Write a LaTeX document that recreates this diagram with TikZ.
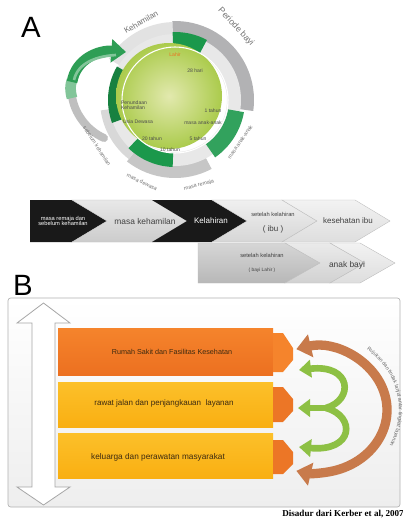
\documentclass[tikz,border=0pt]{standalone}
\usepackage{fontspec}
\setmainfont{Liberation Sans}
\newfontfamily\capfont{Liberation Serif}
\usetikzlibrary{arrows.meta,decorations.text}
\newcommand\myfs[1]{\fontsize{#1}{#1}\selectfont}
\newcommand\annsec[5]{\fill[#1] (#2:#4) arc[start angle=#2,end angle=#3,radius=#4] -- (#3:#5) arc[start angle=#3,end angle=#2,radius=#5] -- cycle;}
\definecolor{perigray}{HTML}{B2B2B4}
\definecolor{lgrayA}{HTML}{C6C6C6}
\definecolor{lgrayB}{HTML}{D8D8D8}
\definecolor{lgrayC}{HTML}{E2E2E2}
\definecolor{ringc}{HTML}{E8E8E8}
\definecolor{dgreen}{HTML}{1B984B}
\definecolor{diskin}{HTML}{E2E9AE}
\definecolor{diskout}{HTML}{ABCB4C}
\definecolor{arrgreen}{HTML}{2E9E55}
\definecolor{orangeA}{HTML}{F5842C}
\definecolor{orangeB}{HTML}{EC7020}
\definecolor{yellowA}{HTML}{FCC02A}
\definecolor{yellowB}{HTML}{F9AF12}
\definecolor{tipor}{HTML}{EC7626}
\definecolor{greenc}{HTML}{8DC044}
\definecolor{brownc}{HTML}{C87A4B}
\definecolor{panelc}{HTML}{EEEEEE}
\definecolor{txtd}{HTML}{3C2A10}
\tikzset{
  ctext/.style={font=\myfs{3.8}, text=black!70, inner sep=0, align=center},
  olabel/.style={font=\myfs{4}, text=black!55, inner sep=0},
  chwhite/.style={font=\myfs{6}, text=white, inner sep=0, align=center},
  chdark/.style={font=\myfs{6}, text=black!75, inner sep=0, align=center},
  bartext/.style={font=\myfs{5.8}, text=txtd, inner sep=0},
  chevgray/.style 2 args={top color=#1, bottom color=#2, draw=black!25, line width=0.3pt},
}
\begin{document}
\begin{tikzpicture}[x=0.75pt,y=-0.75pt]
\useasboundingbox (0,0) rectangle (403,522);
\fill[white] (0,0) rectangle (403,522);

% ---------- A ----------
\node[font=\myfs{22}, inner sep=0] (labA) at (31,27) {A};

% ---------- circle ----------
\begin{scope}[shift={(175,100)}]
\begin{scope}[y=0.75pt]
  \annsec{perigray}{-8}{92}{64}{79}
  \annsec{lgrayC}{92}{148}{64}{78}
  \annsec{lgrayA}{-128}{-62}{64}{78}
  \annsec{lgrayB}{188}{232}{64}{75}
  \fill[ringc, even odd rule] (0,0) circle[radius=66] (0,0) circle[radius=52];
  \annsec{dgreen}{62}{92}{53}{68}
  \annsec{dgreen!85!black}{150}{200}{53}{67}
  \annsec{dgreen}{226}{268}{53}{67}
  \annsec{dgreen!90!white}{-55}{-10}{54}{70}
  \shade[inner color=diskin, outer color=diskout] (-6,4) circle[radius=53];
  \draw[white, line width=0.8pt] (0,0) circle[radius=53];
\end{scope}
\end{scope}

% green curled arrow
\draw[black!25, line width=6pt, line cap=round] (104,138) .. controls (86,130) and (74,112) .. (72,96);
\draw[arrgreen!60!white, line width=8pt] (72,98) .. controls (70,90) and (70,86) .. (72,80);
\draw[arrgreen, line width=8pt, -{Triangle[width=17pt,length=11pt]}] (72,82) .. controls (76,58) and (100,50) .. (126,52);
\draw[arrgreen!60!white, line width=2pt] (74,80) .. controls (78,62) and (98,56) .. (116,55);

% circle labels
\node[ctext, text=orangeB] (lahir) at (175,55) {Lahir};
\node[ctext] (hari28) at (195,71) {28 hari};
\node[ctext, align=left] (penund) at (134,105) {Penundaan\\Kehamilan};
\node[ctext] (usia) at (138,122) {Usia Dewasa};
\node[ctext] (th20) at (152,139) {20 tahun};
\node[ctext] (th10) at (170,150) {10 tahun};
\node[ctext] (th5) at (198,139) {5 tahun};
\node[ctext] (anak) at (203,123) {masa anak-anak};
\node[ctext] (th1) at (213,111) {1 tahun};

\node[olabel, font=\myfs{6}, rotate=30] (kehamilan) at (141,22) {Kehamilan};
\node[olabel, font=\myfs{6.5}, rotate=-47] (periode) at (236,27) {Periode bayi};
\node[olabel, rotate=55] (anakout) at (240,142) {masa anak-anak};
\node[olabel, rotate=15] (remaja) at (199,185) {masa remaja};
\node[olabel, rotate=-25] (dewasa) at (142,182) {masa dewasa};
\node[olabel, rotate=-57] (sebelum) at (97,146) {sebelum kehamilan};

% ---------- chevrons row 1 ----------
\fill[black!90] (30,200) -- (72,200) -- (107,221) -- (72,242) -- (30,242) -- cycle;
\shade[chevgray={black!9}{black!20}] (72,200) -- (152,200) -- (187,221) -- (152,242) -- (72,242) -- (107,221) -- cycle;
\fill[black!90] (152,200) -- (212,200) -- (247,221) -- (212,242) -- (152,242) -- (187,221) -- cycle;
\shade[chevgray={black!6}{black!16}] (212,200) -- (282,200) -- (317,221) -- (282,242) -- (212,242) -- (247,221) -- cycle;
\shade[chevgray={black!5}{black!13}] (282,200) -- (355,200) -- (390,221) -- (355,242) -- (282,242) -- (317,221) -- cycle;

\node[chwhite, font=\myfs{4.3}] (c1) at (63,221) {masa remaja dan\\sebelum kehamilan};
\node[chdark, font=\myfs{6.3}] (c2) at (145,221) {masa kehamilan};
\node[chwhite] (c3) at (211,221) {Kelahiran};
\node[chdark, font=\myfs{4.3}] (c4a) at (273,214) {setelah kelahiran};
\node[chdark] (c4b) at (273,229) {( ibu )};
\node[chdark] (c5) at (348,221) {kesehatan ibu};

% ---------- chevrons row 2 ----------
\shade[chevgray={black!16}{black!28}] (198,243) -- (285,243) -- (320,263) -- (285,283) -- (198,283) -- cycle;
\shade[chevgray={black!8}{black!18}] (285,243) -- (330,243) -- (365,263) -- (330,283) -- (285,283) -- (320,263) -- cycle;
\shade[chevgray={black!5}{black!13}] (330,243) -- (360,243) -- (395,263) -- (360,283) -- (330,283) -- (365,263) -- cycle;
\node[chdark, font=\myfs{4.3}] (d1a) at (262,255) {setelah kelahiran};
\node[chdark, font=\myfs{3.6}] (d1b) at (262,270) {( bayi Lahir )};
\node[chdark, font=\myfs{6.3}] (d2) at (347,265) {anak bayi};

% ---------- B ----------
\node[font=\myfs{22}, inner sep=0] (labB) at (23,285) {B};
\shade[top color=white, bottom color=panelc, draw=black!30, line width=0.5pt, rounded corners=2pt] (8,298) rectangle (400,507);

% double arrow
\draw[fill=white, draw=black!35, line width=0.6pt] (43.5,303) -- (70,323) -- (55,323) -- (55,487) -- (70,487) -- (43.5,505) -- (17,487) -- (32,487) -- (32,323) -- (17,323) -- cycle;

% bars
\shade[top color=orangeA, bottom color=orangeB] (58,328) rectangle (273,375);
\fill[orangeA] (273,333) -- (283,333) -- (293,348) -- (293,360) -- (283,372) -- (273,372) -- cycle;
\shade[top color=yellowA, bottom color=yellowB] (58,382) rectangle (273,427);
\fill[tipor] (273,387) -- (283,387) -- (293,399) -- (293,411) -- (283,422) -- (273,422) -- cycle;
\shade[top color=yellowA, bottom color=yellowB] (58,433) rectangle (273,478);
\fill[tipor] (273,440) -- (283,440) -- (293,452) -- (293,464) -- (283,474) -- (273,474) -- cycle;

\node[bartext, font=\myfs{5.4}] (b1) at (172,352) {Rumah Sakit dan Fasilitas Kesehatan};
\node[bartext, font=\myfs{6}] (b2) at (164,403) {rawat jalan dan penjangkauan\ \ layanan};
\node[bartext, font=\myfs{6.2}] (b3) at (158,457) {keluarga dan perawatan masyarakat};

% green "3"
\draw[greenc, line width=5pt, -{Triangle[width=13pt,length=9pt]}] (326,408) .. controls (354,400) and (352,364) .. (299,370);
\draw[greenc, line width=5pt, -{Triangle[width=13pt,length=9pt]}] (326,408) .. controls (356,416) and (354,452) .. (299,447);
\draw[greenc, line width=5pt, -{Triangle[width=13pt,length=9pt]}] (330,408) -- (298,408);

% brown arc and its label
\begin{scope}[shift={(315,410)}]
\begin{scope}[y=0.75pt]
  \draw[brownc, line width=7pt, {Triangle[width=17pt,length=11pt]}-{Triangle[width=17pt,length=11pt]}] (105:72 and 63) arc[start angle=105,end angle=-105,x radius=72,y radius=63];
  \path[decorate, decoration={text along path, text align=center, text={|\myfs{3.9}\color{black!60}|Rujukan dan tindak lanjut antar tingkat layanan}}] (64:84 and 77) arc[start angle=64,end angle=-40,x radius=84,y radius=77];
\end{scope}
\end{scope}

% caption
\node[font=\capfont\bfseries\myfs{6.8}, anchor=east, inner sep=0] (cap) at (404,514) {Disadur dari Kerber et al, 2007};
\end{tikzpicture}
\end{document}
